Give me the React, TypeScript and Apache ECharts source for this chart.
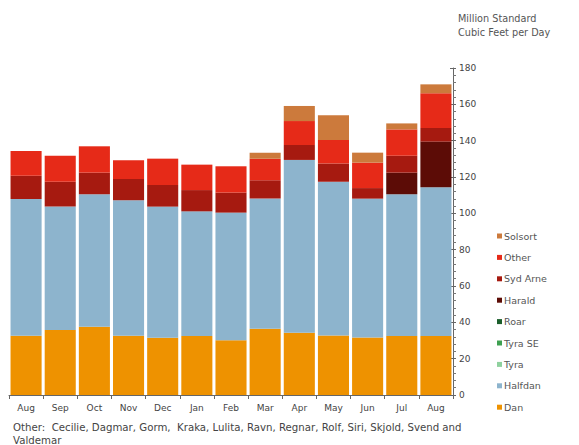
import React, { useEffect, useRef } from "react";
import * as echarts from "echarts";

const months = ["Aug", "Sep", "Oct", "Nov", "Dec", "Jan", "Feb", "Mar", "Apr", "May", "Jun", "Jul", "Aug"];
const dan = [32.6, 35.8, 37.6, 32.6, 31.5, 32.5, 30.1, 36.5, 34.3, 32.8, 31.7, 32.5, 32.5];
const halfdan = [75.3, 67.9, 72.9, 74.6, 72.2, 68.6, 70.3, 71.6, 95.1, 84.6, 76.4, 78.0, 81.8];
const tyra = [0, 0, 0, 0, 0, 0, 0, 0, 0, 0, 0, 0, 0];
const tyraSE = [0, 0, 0, 0, 0, 0, 0, 0, 0, 0, 0, 0, 0];
const roar = [0, 0, 0, 0, 0, 0, 0, 0, 0, 0, 0, 0, 0];
const harald = [0, 0, 0, 0, 0, 0, 0, 0, 0, 0, 0, 11.9, 25.2];
const sydArne = [12.8, 13.7, 11.9, 11.7, 11.9, 11.7, 11.0, 10.1, 8.2, 10.1, 5.8, 9.3, 7.5];
const other = [13.6, 14.3, 14.5, 10.3, 14.5, 14.0, 14.5, 11.9, 13.2, 12.9, 14.0, 14.5, 19.1];
const solsort = [0, 0, 0, 0, 0, 0, 0, 3.3, 8.3, 13.6, 5.5, 3.3, 4.9];

const seriesDefs = [
  { name: "Dan", data: dan, color: "#EE9200" },
  { name: "Halfdan", data: halfdan, color: "#8DB4CD" },
  { name: "Tyra", data: tyra, color: "#8FD19E" },
  { name: "Tyra SE", data: tyraSE, color: "#3EA050" },
  { name: "Roar", data: roar, color: "#1B5E2B" },
  { name: "Harald", data: harald, color: "#5C0C06" },
  { name: "Syd Arne", data: sydArne, color: "#A61A10" },
  { name: "Other", data: other, color: "#E62A18" },
  { name: "Solsort", data: solsort, color: "#CC7A3C" },
];

const legendOrder = ["Solsort", "Other", "Syd Arne", "Harald", "Roar", "Tyra SE", "Tyra", "Halfdan", "Dan"];

const FONT = "DejaVu Sans, Verdana, sans-serif";

export default function App() {
  const ref = useRef<HTMLDivElement>(null);
  useEffect(() => {
    if (!ref.current) return;
    const chart = echarts.init(ref.current, undefined, { renderer: "svg" });
    chart.setOption({
      animation: false,
      textStyle: { fontFamily: FONT },
      title: {
        text: "Million Standard\nCubic Feet per Day",
        left: 453,
        top: 6,
        textStyle: { fontSize: 9.7, fontWeight: "normal", color: "#555", lineHeight: 14, fontFamily: FONT },
      },
      legend: {
        orient: "vertical",
        left: 492,
        top: 225,
        itemWidth: 5,
        itemHeight: 5,
        itemGap: 9.4,
        icon: "rect",
        data: legendOrder,
        textStyle: { fontSize: 9.5, color: "#555", lineHeight: 12, padding: [0, 0, 0, -3], fontFamily: FONT },
      },
      grid: { left: 9, right: 126, top: 68, bottom: 50 },
      xAxis: {
        type: "category",
        data: months,
        boundaryGap: true,
        axisLine: { show: true, lineStyle: { color: "#666", width: 1 } },
        axisTick: { show: true, length: 4, lineStyle: { color: "#666" }, interval: 0 },
        axisLabel: { fontSize: 9, color: "#444", margin: 8, interval: 0, fontFamily: FONT },
      },
      yAxis: [
        {
          type: "value",
          position: "right",
          min: 0,
          max: 180,
          interval: 20,
          axisLine: { show: true, lineStyle: { color: "#666" } },
          axisTick: { show: true, length: 3, lineStyle: { color: "#666" } },
          minorTick: { show: true, splitNumber: 5, length: 3, lineStyle: { color: "#777" } },
          splitLine: { show: false },
          axisLabel: { fontSize: 9, color: "#444", margin: 6, fontFamily: FONT },
        },
        {
          type: "value",
          position: "right",
          min: 0,
          max: 180,
          interval: 20,
          axisLine: { show: false },
          axisTick: { show: true, inside: true, length: 3, lineStyle: { color: "#666" } },
          splitLine: { show: false },
          axisLabel: { show: false },
        },
      ],
      series: seriesDefs.map((s) => ({
        name: s.name,
        type: "bar",
        stack: "total",
        data: s.data,
        barCategoryGap: "9%",
        itemStyle: { color: s.color },
        emphasis: { disabled: true },
      })),
      graphic: [
        {
          type: "text",
          left: 13,
          top: 421,
          style: {
            text: "Other:  Cecilie, Dagmar, Gorm,  Kraka, Lulita, Ravn, Regnar, Rolf, Siri, Skjold, Svend and\nValdemar",
            fontSize: 10.2,
            lineHeight: 13,
            fill: "#444",
            fontFamily: FONT,
          },
        },
      ],
    });
    return () => chart.dispose();
  }, []);
  return <div ref={ref} style={{ width: 579, height: 445, position: "absolute", left: 0, top: 0 }} />;
}
